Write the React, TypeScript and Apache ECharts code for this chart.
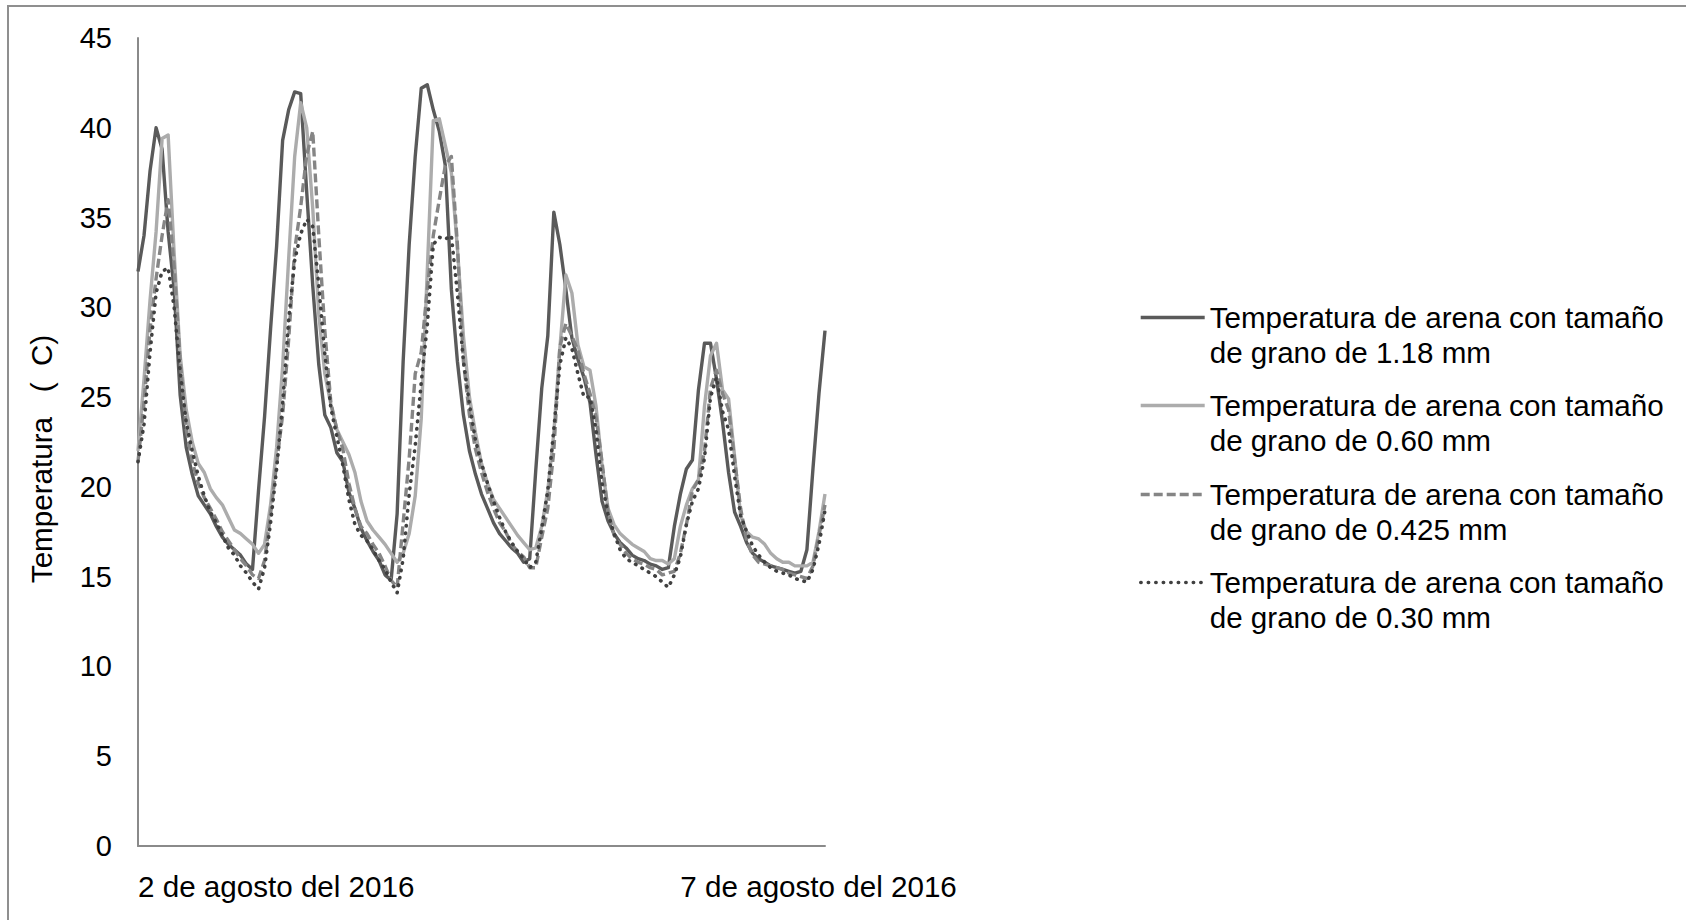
import React, { useEffect, useRef } from "react";
import * as echarts from "echarts";

// Tick labels on the category (time) axis and their positions (sample index)
const xTickLabels = ["2 de agosto del 2016", "7 de agosto del 2016"];
const xTickIndex = [0, 90];

// Y axis
const yMin = 0;
const yMax = 45;
const yStep = 5;
const NB = "\u00A0";
const yTitle = "Temperatura" + NB + NB + NB + "(" + NB + NB + "C)";

// Series names (legend text, two lines each)
const names = [
  "Temperatura de arena con tamaño de grano de 1.18 mm",
  "Temperatura de arena con tamaño de grano de 0.60 mm",
  "Temperatura de arena con tamaño de grano de 0.425 mm",
  "Temperatura de arena con tamaño de grano de 0.30 mm",
];
const legendLines = [
  ["Temperatura de arena con tamaño", "de grano de 1.18 mm"],
  ["Temperatura de arena con tamaño", "de grano de 0.60 mm"],
  ["Temperatura de arena con tamaño", "de grano de 0.425 mm"],
  ["Temperatura de arena con tamaño", "de grano de 0.30 mm"],
];

// Temperatures (°C), sand grain 1.18 mm
const t118 = [32.0, 34.0, 37.6, 40.0, 38.8, 34.2, 31.0, 25.1, 22.2, 20.7,
  19.5, 19.0, 18.5, 17.8, 17.2, 16.8, 16.5, 16.2, 15.7, 15.4,
  19.8, 23.9, 28.8, 33.4, 39.3, 41.0, 42.0, 41.9, 36.4, 31.2,
  26.8, 24.0, 23.3, 21.9, 21.4, 19.7, 18.8, 17.7, 17.0, 16.4,
  15.9, 15.1, 14.8, 18.5, 27.0, 33.5, 38.4, 42.2, 42.4, 41.0,
  39.8, 37.9, 31.0, 27.0, 24.0, 22.0, 20.7, 19.6, 18.8, 18.0,
  17.4, 17.0, 16.6, 16.3, 15.8, 16.0, 20.9, 25.5, 28.4, 35.3,
  33.5, 31.0, 28.3, 27.1, 26.1, 24.7, 21.8, 19.2, 18.1, 17.4,
  16.9, 16.6, 16.2, 16.0, 15.9, 15.7, 15.6, 15.4, 15.5, 17.8,
  19.6, 21.0, 21.5, 25.4, 28.0, 28.0, 26.0, 23.6, 20.8, 18.6,
  17.8, 16.9, 16.3, 16.0, 15.8, 15.6, 15.5, 15.4, 15.3, 15.2,
  15.3, 16.5, 21.0, 25.2, 28.7];

// sand grain 0.60 mm
const t060 = [22.0, 26.0, 30.4, 34.2, 39.4, 39.6, 33.0, 27.3, 24.3, 22.5,
  21.3, 20.8, 19.9, 19.4, 19.0, 18.3, 17.6, 17.4, 17.1, 16.8,
  16.3, 16.8, 19.0, 22.2, 26.7, 32.7, 38.4, 41.4, 40.0, 35.5,
  29.6, 26.3, 24.6, 23.2, 22.5, 21.8, 20.8, 19.2, 18.1, 17.6,
  17.2, 16.8, 16.3, 15.8, 16.3, 17.4, 19.5, 23.8, 32.0, 40.4,
  40.5, 39.0, 37.5, 33.3, 28.4, 25.0, 23.0, 21.3, 20.2, 19.3,
  18.8, 18.3, 17.8, 17.3, 16.9, 16.5, 16.6, 17.8, 19.8, 23.0,
  27.7, 31.8, 30.8, 27.9, 26.7, 26.5, 24.5, 21.2, 18.8, 17.9,
  17.4, 17.1, 16.8, 16.6, 16.4, 16.0, 15.9, 15.9, 15.7, 16.0,
  17.8, 19.0, 19.9, 20.4, 24.5, 27.3, 28.0, 25.4, 24.9, 21.7,
  18.4, 17.5, 17.2, 17.1, 16.8, 16.3, 16.0, 15.8, 15.8, 15.6,
  15.6, 15.6, 15.8, 17.5, 19.6];

// sand grain 0.425 mm
const t0425 = [21.4, 24.7, 28.8, 31.6, 34.0, 36.0, 32.3, 27.0, 23.2, 21.4,
  20.2, 19.4, 18.8, 18.2, 17.5, 17.0, 16.5, 16.0, 15.6, 15.1,
  14.9, 15.9, 18.5, 21.3, 24.0, 28.2, 33.2, 35.6, 38.5, 39.8,
  34.0, 28.7, 24.7, 23.2, 22.1, 20.2, 18.8, 17.8, 17.4, 16.8,
  16.3, 15.6, 14.8, 14.4, 18.0, 21.6, 26.3, 27.5, 31.0, 34.0,
  36.0, 37.9, 38.4, 33.5, 27.0, 24.0, 22.1, 20.8, 19.7, 18.8,
  18.0, 17.5, 16.8, 16.4, 16.1, 15.5, 15.5, 17.2, 18.8, 22.0,
  27.8, 29.1, 28.4, 27.6, 26.3, 25.2, 23.9, 21.4, 18.6, 17.3,
  16.8, 16.3, 16.0, 15.8, 15.7, 15.5, 15.4, 15.1, 15.2, 15.3,
  16.3, 17.9, 19.8, 20.4, 22.0, 25.5, 26.5, 25.2, 24.3, 21.5,
  18.8, 17.0, 16.2, 15.8, 15.7, 15.6, 15.5, 15.4, 15.2, 15.1,
  15.0, 14.9, 15.6, 17.3, 19.0];

// sand grain 0.30 mm
const t030 = [21.4, 23.5, 27.5, 30.8, 32.0, 32.2, 30.0, 26.4, 23.6, 22.0,
  20.6, 19.5, 18.6, 18.0, 17.3, 16.6, 16.2, 15.6, 15.2, 14.7,
  14.3, 15.5, 18.0, 21.0, 24.6, 29.3, 32.6, 34.1, 34.9, 34.5,
  31.2, 27.4, 24.4, 22.8, 21.2, 19.3, 17.9, 17.3, 17.0, 16.5,
  15.9, 15.4, 14.7, 14.1, 16.0, 19.6, 22.3, 25.8, 29.0, 33.5,
  33.9, 33.8, 34.0, 30.8, 27.0, 24.6, 22.6, 21.3, 20.2, 19.2,
  18.3, 17.5, 16.9, 16.4, 16.0, 15.5, 15.8, 17.7, 19.8, 23.2,
  26.8, 28.3, 27.7, 26.3, 25.0, 25.0, 23.2, 20.2, 18.5, 17.4,
  16.5, 16.0, 15.8, 15.6, 15.4, 15.2, 15.0, 14.7, 14.4, 15.1,
  16.1, 17.9, 19.2, 19.9, 21.6, 25.0, 26.1, 24.2, 23.2, 20.6,
  18.4, 17.5, 16.7, 16.2, 15.8, 15.5, 15.3, 15.2, 15.1, 14.9,
  14.8, 14.7, 15.4, 16.8, 18.7];

const FONT = "'Liberation Sans', Arial, Helvetica, sans-serif";
const FS = 29.6;

export default function App() {
  const ref = useRef<HTMLDivElement>(null);

  useEffect(() => {
    if (!ref.current) return;
    const chart = echarts.init(ref.current, undefined, { renderer: "svg" });

    const categories = t118.map((_, i) => String(i));
    const seriesData = [t118, t060, t0425, t030];
    const styles = [
      { color: "#5a5a5a", width: 3.4, type: "solid" as any, cap: "butt" },
      { color: "#acacac", width: 3.4, type: "solid" as any, cap: "butt" },
      { color: "#858585", width: 3.4, type: [9, 4] as any, cap: "butt" },
      { color: "#404040", width: 3.6, type: [0.5, 7] as any, cap: "round" },
    ];

    const legendTops = [265, 353, 442, 530];

    const option: any = {
      animation: false,
      backgroundColor: "#ffffff",
      textStyle: { fontFamily: FONT },
      graphic: [
        {
          type: "rect",
          silent: true,
          shape: { x: 8, y: 6, width: 1700, height: 940 },
          style: { fill: "none", stroke: "#8f8f8f", lineWidth: 2 },
        },
      ],
      grid: { left: 138, top: 38, width: 687, height: 808, containLabel: false },
      xAxis: {
        type: "category",
        data: categories,
        boundaryGap: false,
        axisLine: { show: true, lineStyle: { color: "#8a8a8a", width: 2 } },
        axisTick: { show: false },
        splitLine: { show: false },
        axisLabel: {
          interval: (idx: number) => xTickIndex.indexOf(idx) >= 0,
          formatter: (_v: string, idx: number) => {
            const k = xTickIndex.indexOf(idx);
            return k >= 0 ? xTickLabels[k] : "";
          },
          align: "left",
          margin: 26,
          color: "#000",
          fontSize: FS,
          lineHeight: 29,
          fontFamily: FONT,
        },
      },
      yAxis: {
        type: "value",
        min: yMin,
        max: yMax,
        interval: yStep,
        name: yTitle,
        nameLocation: "middle",
        nameGap: 82,
        nameTextStyle: {
          color: "#000",
          fontSize: FS,
          lineHeight: 29,
          fontFamily: FONT,
          padding: [0, 34, 0, 0],
        },
        axisLine: { show: true, lineStyle: { color: "#8a8a8a", width: 2 } },
        axisTick: { show: false },
        splitLine: { show: false },
        axisLabel: { color: "#000", fontSize: 29, margin: 26, fontFamily: FONT },
      },
      legend: names.map((n, k) => ({
        data: [n],
        left: 1139,
        top: legendTops[k],
        orient: "vertical",
        padding: 0,
        itemWidth: 64,
        itemHeight: 4,
        selectedMode: false,
        itemStyle: { opacity: 0 },
        lineStyle: { width: 3.4 },
        formatter: () => "\n" + legendLines[k].join("\n"),
        textStyle: { color: "#000", fontSize: FS, lineHeight: 35, fontFamily: FONT },
      })),
      series: seriesData.map((d, k) => ({
        name: names[k],
        type: "line",
        data: d,
        symbol: "none",
        showSymbol: false,
        smooth: false,
        lineStyle: {
          color: styles[k].color,
          width: styles[k].width,
          type: styles[k].type,
          cap: styles[k].cap,
          join: "round",
        },
        itemStyle: { color: styles[k].color },
      })),
    };

    chart.setOption(option);
    return () => chart.dispose();
  }, []);

  return (
    <div
      ref={ref}
      style={{ position: "absolute", left: 0, top: 0, width: 1686, height: 920, background: "#fff" }}
    />
  );
}
